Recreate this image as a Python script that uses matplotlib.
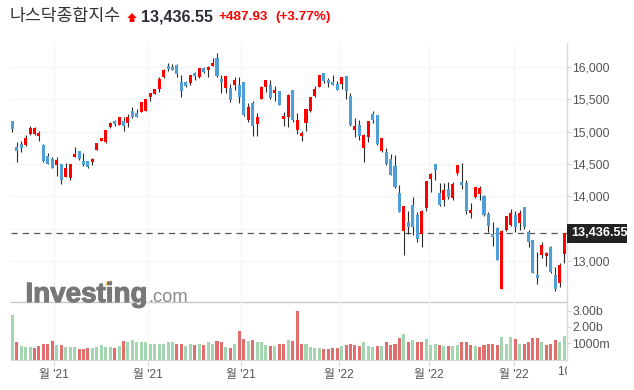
import numpy as np
import matplotlib
matplotlib.use('Agg')
import matplotlib.pyplot as plt
import matplotlib.patheffects as pe
from matplotlib.transforms import Bbox

plt.rcParams['font.family'] = ['Liberation Sans', 'Noto Sans CJK KR', 'DejaVu Sans']

opens = [15165, 14763, 14814, 14794, 14964, 14964, 14933, 14794, 14623, 14572,
         14489, 14500, 14299, 14283, 14613, 14701, 14541, 14541, 14536, 14716,
         14855, 14840, 15067, 15165, 15103, 15165, 15134, 15314, 15288, 15304,
         15325, 15536, 15582, 15660, 15840, 16015, 16000, 16031, 15768, 15768,
         15752, 15907, 15840, 15984, 15959, 16015, 16139, 15814, 15675, 15675,
         15721, 15721, 15768, 15180, 15443, 15118, 15505, 15691, 15721, 15598,
         15629, 15196, 15227, 15644, 15026, 14933, 15134, 15319, 15551, 15691,
         15907, 15799, 15768, 15737, 15737, 15861, 15551, 15026, 15103, 14747,
         14917, 15273, 15258, 14701, 14685, 14577, 14469, 14046, 13469, 13603,
         13866, 13711, 13417, 13814, 14268, 14500, 14046, 13943, 14113, 13979,
         14361, 14221, 14206, 13747, 13995, 14036, 14005, 13726, 13417, 13510,
         12567, 13479, 13556, 13711, 13587, 13835, 13448, 13324, 12783, 13092,
         13077, 13216, 12783, 12659, 13108]
highs = [15165, 14835, 14855, 14943, 15082, 15072, 15010, 14814, 14675, 14603,
         14603, 14505, 14510, 14505, 14757, 14706, 14665, 14546, 14587, 14824,
         14902, 15020, 15144, 15180, 15227, 15221, 15268, 15386, 15350, 15459,
         15500, 15603, 15665, 15845, 15969, 16062, 16041, 16041, 15876, 15778,
         15881, 15923, 15990, 16000, 16010, 16134, 16216, 15876, 15861, 15732,
         15840, 15840, 15768, 15443, 15474, 15283, 15706, 15799, 15799, 15706,
         15634, 15304, 15582, 15644, 15288, 15010, 15350, 15536, 15706, 15876,
         15907, 15830, 15876, 15783, 15845, 15861, 15593, 15211, 15180, 14964,
         15165, 15319, 15258, 14902, 14742, 14654, 14639, 14170, 13850, 13773,
         13995, 13752, 13788, 14237, 14366, 14500, 14211, 14211, 14226, 14221,
         14484, 14510, 14247, 13902, 14144, 14159, 14020, 13763, 13608, 13520,
         13479, 13696, 13799, 13773, 13788, 13835, 13479, 13324, 13144, 13288,
         13144, 13226, 12902, 12964, 13436]
lows = [15000, 14536, 14690, 14778, 14948, 14948, 14861, 14536, 14495, 14438,
        14319, 14185, 14299, 14257, 14613, 14567, 14474, 14443, 14479, 14711,
        14855, 14830, 15051, 15082, 15098, 15015, 15077, 15216, 15227, 15299,
        15319, 15479, 15577, 15618, 15835, 15933, 15948, 15845, 15541, 15696,
        15721, 15799, 15830, 15912, 15845, 16010, 15850, 15603, 15603, 15464,
        15649, 15448, 15247, 15149, 14938, 14933, 15505, 15618, 15505, 15479,
        15407, 15087, 15067, 15149, 14969, 14861, 15010, 15309, 15536, 15685,
        15752, 15685, 15721, 15644, 15654, 15510, 15087, 14922, 14871, 14536,
        14845, 15129, 14788, 14685, 14479, 14330, 14129, 13763, 13087, 13412,
        13402, 13299, 13221, 13773, 14072, 14252, 13850, 13850, 13958, 13938,
        14330, 14113, 13732, 13659, 13969, 13943, 13701, 13453, 13237, 13015,
        12567, 13464, 13541, 13443, 13479, 13489, 13221, 12809, 12649, 13041,
        12927, 12809, 12541, 12603, 12974]
closes = [15041, 14701, 14747, 14902, 15056, 15056, 14979, 14546, 14505, 14443,
          14562, 14252, 14438, 14500, 14654, 14582, 14484, 14458, 14577, 14819,
          14897, 15020, 15134, 15118, 15221, 15087, 15227, 15221, 15232, 15459,
          15500, 15598, 15654, 15814, 15953, 15969, 15953, 15892, 15629, 15706,
          15876, 15861, 15984, 15923, 16000, 16062, 15855, 15768, 15861, 15489,
          15799, 15536, 15258, 15381, 15087, 15227, 15691, 15799, 15520, 15644,
          15412, 15242, 15567, 15180, 15180, 14979, 15350, 15536, 15660, 15876,
          15783, 15752, 15721, 15644, 15845, 15629, 15103, 15087, 14933, 14948,
          15165, 15180, 14809, 14902, 14500, 14335, 14144, 13763, 13850, 13525,
          13525, 13340, 13773, 14237, 14345, 14407, 13866, 14098, 13995, 14190,
          14479, 14175, 13778, 13788, 14144, 14129, 13711, 13541, 13376, 13015,
          13464, 13696, 13742, 13525, 13742, 13525, 13293, 12814, 12737, 13247,
          13123, 12824, 12567, 12938, 13436]

# volume in billions, colours are not tied to the candles in the source
volumes = [2.75, 1.06, 0.85, 0.79, 0.79, 0.73, 0.85, 0.98, 0.98, 1.13,
           0.92, 0.92, 0.79, 0.79, 0.79, 0.67, 0.67, 0.73, 0.73, 0.79,
           0.92, 0.79, 0.79, 0.73, 0.85, 1.13, 1.06, 1.17, 1.06, 1.06,
           1.06, 0.98, 0.98, 0.98, 0.98, 1.06, 1.06, 0.98, 0.98, 0.85,
           0.98, 0.92, 0.98, 0.92, 1.06, 0.98, 1.13, 1.06, 0.79, 0.73,
           0.98, 1.73, 1.23, 1.13, 1.17, 1.06, 1.06, 0.92, 0.85, 0.85,
           0.98, 0.98, 1.17, 1.13, 3.00, 0.98, 0.98, 0.79, 0.73, 0.73,
           0.67, 0.67, 0.73, 0.73, 0.85, 0.92, 0.98, 0.92, 0.85, 1.06,
           0.85, 0.79, 0.85, 0.85, 1.06, 0.92, 0.98, 1.29, 1.54, 1.06,
           1.17, 1.06, 1.06, 1.23, 0.92, 0.98, 0.92, 0.85, 0.85, 0.85,
           0.92, 1.06, 1.06, 0.92, 0.85, 0.79, 0.92, 0.98, 0.98, 0.92,
           1.38, 0.98, 1.38, 1.23, 0.98, 0.98, 1.06, 1.29, 1.29, 1.10,
           0.92, 0.98, 1.17, 1.10, 1.44]
volume_kinds = ('grgggrrrrr' 'grgggrrrgg' 'gggrgrgggg' 'gggggggrrg' 'grgrggrrgr'
                'grrgrgggrg' 'rrgrrrgggg' 'rrrrgrrrrg' 'ggrgrrrrgr' 'grrgggrgrg'
                'grrrgrrrrr' 'gggrgrrrrg' 'rrrgg')

price_ticks = [13000, 14000, 14500, 15000, 15500, 16000]
grid_prices = [13000, 13500, 14000, 14500, 15000, 15500, 16000]
volume_ticks = [1.0, 2.0, 3.0]
volume_tick_labels = ['1000m', '2.00b', '3.00b']
month_ticks = [9.44, 30.56, 51.46, 73.5, 93.6, 112.7]
month_labels = ["월 '21", "월 '21", "월 '21", "월 '22", "월 '22", "월 '22"]
last_price = 13436.55

WIDTH, HEIGHT = 634, 390
RED = '#ff0000'
BLUE = '#4e9fd8'
GRID = '#f5f5f5'
AXIS = '#d8d8d8'
TEXT = '#555555'


def pixel_axes(fig, left, top, right, bottom):
    return fig.add_axes([left / WIDTH, 1 - bottom / HEIGHT,
                         (right - left) / WIDTH, (bottom - top) / HEIGHT])


fig = plt.figure(figsize=(WIDTH / 100, HEIGHT / 100), dpi=100)
ax = pixel_axes(fig, 10.5, 43, 567, 301.5)
vol = pixel_axes(fig, 10.5, 301.5, 567, 359.5)
xs = np.arange(len(closes))
xlim = (-0.4, 124.65)

# candles
up = np.array(closes) >= np.array(opens)
colors = [RED if u else BLUE for u in up]
ax.vlines(xs, lows, highs, color='#2b2b2b', linewidth=0.8, zorder=3)
ax.bar(xs, np.abs(np.array(closes) - np.array(opens)), bottom=np.minimum(opens, closes),
       width=0.68, color=colors, linewidth=0, zorder=4)
ax.axhline(last_price, color='#555555', linewidth=0.9, dashes=(5, 4), zorder=2)

ax.set_xlim(xlim)
ax.set_ylim(12373, 16371)
ax.set_xticks(month_ticks)
ax.set_yticks(price_ticks)
ax.set_yticklabels([f'{t:,}' for t in price_ticks])
ax.yaxis.tick_right()
ax.tick_params(axis='x', length=0, labelbottom=False)
ax.tick_params(axis='y', length=3, width=0.8, color=AXIS, labelsize=8.8, labelcolor=TEXT, pad=1)
for y in grid_prices:
    ax.axhline(y, color=GRID, linewidth=0.9, zorder=1)
ax.grid(axis='x', color=GRID, linewidth=0.9, zorder=1)

# volume
vol_colors = ['#a3d5b1' if k == 'g' else '#e26d6d' for k in volume_kinds]
vol.bar(xs, volumes, width=0.68, color=vol_colors, linewidth=0, zorder=3)
vol.set_xlim(xlim)
vol.set_ylim(0, 3.56)
vol.set_xticks(month_ticks)
vol.set_xticklabels(month_labels)
vol.set_yticks(volume_ticks)
vol.set_yticklabels(volume_tick_labels)
vol.yaxis.tick_right()
vol.tick_params(axis='x', length=4, width=0.8, color=AXIS, labelsize=8.6, labelcolor=TEXT, pad=3)
vol.tick_params(axis='y', length=3, width=0.8, color=AXIS, labelsize=8.8, labelcolor=TEXT, pad=1)
vol.grid(axis='x', color=GRID, linewidth=0.9, zorder=1)

for a in (ax, vol):
    a.set_axisbelow(True)
    a.set_facecolor('none')
    a.spines['top'].set_visible(False)
    a.spines['left'].set_visible(False)
    a.spines['right'].set_color(AXIS)
    a.spines['right'].set_linewidth(1.0)
ax.spines['bottom'].set_color('#c8c8c8')
ax.spines['bottom'].set_linewidth(1.0)
vol.spines['bottom'].set_color(AXIS)
vol.spines['bottom'].set_linewidth(0.8)

# header, watermark and price tag are placed in pixels
over = fig.add_axes([0, 0, 1, 1], zorder=10)
over.set_xlim(0, WIDTH)
over.set_ylim(HEIGHT, 0)
over.axis('off')
over.patch.set_alpha(0)

over.text(10, 16.5, '나스닥종합지수', fontsize=12.4, color='#333333', va='center',
          family=['Noto Sans CJK KR', 'DejaVu Sans'])
over.fill([132, 136.7, 134.4, 134.4, 129.6, 129.6, 127.3], [13, 18, 18, 22, 22, 18, 18],
          color=RED, linewidth=0)
over.text(141, 16.5, '13,436.55', fontsize=11.6, color='#2a2e39', va='center', weight='bold')
over.text(218, 17, '+487.93', fontsize=9.7, color=RED, va='center', weight='bold')
over.text(275.5, 17, '(+3.77%)', fontsize=9.7, color=RED, va='center', weight='bold')

logo = over.text(25.5, 302, 'Investing', fontsize=20, color='#777777', weight='bold', va='baseline')
logo.set_path_effects([pe.withStroke(linewidth=0.8, foreground='#777777')])
over.fill([106, 112, 111, 105.5], [282, 280, 285, 286], color='#fdcb75', linewidth=0)
over.text(148, 302, '.com', fontsize=13.2, color='#8a8a8a', va='baseline')

over.fill_between([567, 627], 224, 243, color='#222222', linewidth=0)
over.text(599.5, 233.5, f'{last_price:,.2f}', fontsize=9.1, color='white', ha='center', va='center', weight='bold')

cut = over.text(557.5, 372.5, "10월 '22", fontsize=8.6, color=TEXT, va='center')
cut.set_clip_box(Bbox([[0, 0], [566.7, HEIGHT]]))
cut.set_clip_on(True)

fig.savefig('out.png', dpi=100)
plt.close(fig)
